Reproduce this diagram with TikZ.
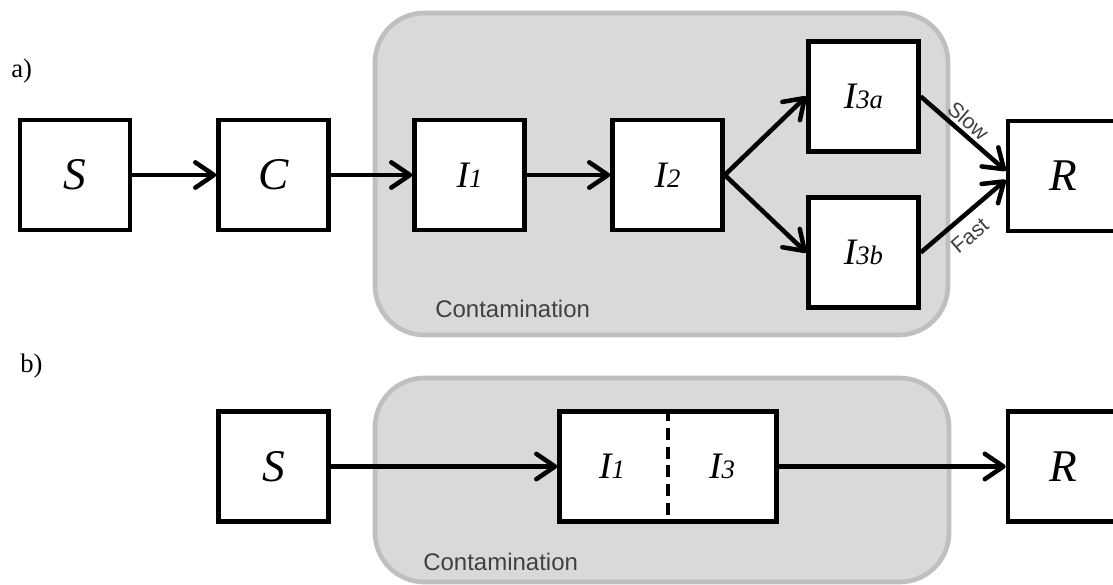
\documentclass[tikz,border=0pt]{standalone}
\usepackage{fontspec}
\setmainfont{Liberation Serif}
\setsansfont{Liberation Sans}
\usetikzlibrary{arrows.meta}
\definecolor{zonefill}{HTML}{D9D9D9}
\definecolor{zoneedge}{HTML}{BFBFBF}
\definecolor{labelgray}{HTML}{404040}
% compartment name I with a subscript
\newcommand\compI[1]{{\fontsize{28}{28}\selectfont I}{\fontsize{20}{20}\selectfont #1}}

\begin{document}
\begin{tikzpicture}[x=0.75pt,y=-0.75pt,
  compartment/.style={draw=black, line width=3.4pt, fill=white,
    minimum width=82.5pt, minimum height=82.5pt, inner sep=0pt,
    font=\fontsize{34}{34}\selectfont\itshape},
  plain/.style={inner sep=0pt, font=\itshape},
  zone/.style={fill=zonefill, draw=zoneedge, line width=3.5pt, rounded corners=37pt},
  zonelabel/.style={anchor=base west, inner sep=0pt, text=labelgray,
    font=\sffamily\fontsize{18}{18}\selectfont},
  ratelabel/.style={sloped, text=labelgray, font=\sffamily\fontsize{16}{16}\selectfont},
  panel/.style={anchor=base west, inner sep=0pt, font=\fontsize{20}{20}\selectfont},
  flow/.style={line width=3.4pt,
    -{Straight Barb[length=14pt,width=19pt,round]}},
]
\useasboundingbox (0,0) rectangle (1113,585);

% contamination zones
\draw[zone] (375,13) rectangle (948,335);
\draw[zone] (375,378) rectangle (949,582);
\node[zonelabel] (za) at (435,317) {Contamination};
\node[zonelabel] (zb) at (423,570) {Contamination};

% panel labels
\node[panel] (pa) at (11,78) {a)};
\node[panel] (pb) at (20,372) {b)};

% a) full model
\node[compartment] (Sa) at (75,175) {S};
\node[compartment] (Ca) at (273.5,175) {C};
\node[compartment] (I1a) at (469.5,175) {\compI{1}};
\node[compartment] (I2a) at (667.5,175) {\compI{2}};
\node[compartment] (I3a) at (863.5,96.5) {\compI{3a}};
\node[compartment] (I3b) at (863.5,252.5) {\compI{3b}};
\node[compartment] (Ra) at (1063,176) {R};

\draw[flow] (Sa) -- (Ca);
\draw[flow] (Ca) -- (I1a);
\draw[flow] (I1a) -- (I2a);
\draw[flow] (I2a.east) -- (I3a.west);
\draw[flow] (I2a.east) -- (I3b.west);
\draw[flow] (I3a.east) -- ([yshift=4pt]Ra.west)
  node[ratelabel, above, pos=0.46, inner sep=2.2pt] (slow) {Slow};
\draw[flow] (I3b.east) -- ([yshift=-3pt]Ra.west)
  node[ratelabel, below, pos=0.43, inner sep=7pt] (fast) {Fast};

% b) reduced model
\node[compartment] (Sb) at (273.5,466.5) {S};
\node[compartment, minimum width=162.75pt] (Ib) at (668,466.5) {};
\node[plain] (I1b) at (612,466.5) {\compI{1}};
\node[plain] (I3bb) at (722,466.5) {\compI{3}};
\draw[line width=3.4pt, dash pattern=on 9pt off 5pt] (Ib.north) -- (Ib.south);
\node[compartment] (Rb) at (1063,466.5) {R};

\draw[flow] (Sb) -- (Ib);
\draw[flow] (Ib) -- (Rb);
\end{tikzpicture}
\end{document}
